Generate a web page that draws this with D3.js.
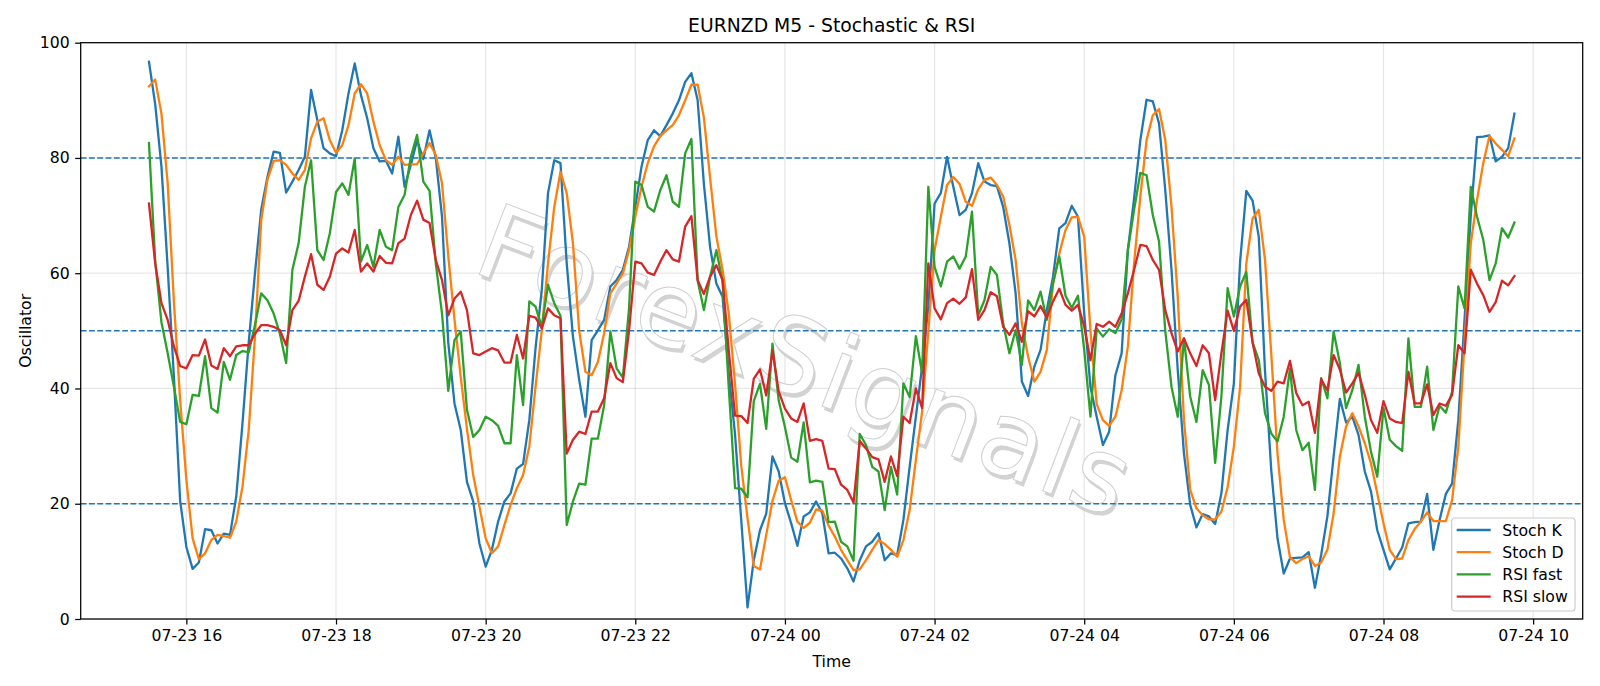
<!DOCTYPE html>
<html>
<head>
<meta charset="utf-8">
<script src="https://cdn.jsdelivr.net/npm/d3@7"></script>
<style>
  html, body { margin: 0; padding: 0; background: #ffffff; }
  svg { display: block; }
  text { font-family: "DejaVu Sans", sans-serif; }
</style>
</head>
<body>
<div id="chart"></div>
<script>
// EURNZD M5 bars, 07-23 15:30 .. 07-24 09:45
var startTime = new Date(2024, 6, 23, 15, 30);
var barMinutes = 5;

var stochK = [
	96.7, 89.3, 78.5, 61, 42, 20.5, 12.5, 8.7, 9.8, 15.6,
	15.4, 13.1, 14.8, 14.6, 21.3, 34, 48, 60, 71, 76.7,
	81.1, 80.9, 74, 75.9, 77.9, 80.2, 91.8, 86.6, 81.7, 80.8,
	80.3, 84.8, 91.2, 96.4, 90.9, 86.9, 81.7, 79.4, 79.5, 77.3,
	83.7, 75.0, 78.8, 83.1, 79.8, 84.8, 80.0, 69.8, 48, 37.4,
	32.8, 23.8, 20.4, 13.1, 9.1, 12.0, 16.9, 20.4, 21.8, 26.1,
	26.9, 34.5, 47, 57.1, 73.9, 79.6, 79.1, 61.7, 49, 41.5,
	35.1, 48.4, 50.1, 51.9, 57.7, 58.8, 60.6, 64.6, 71.5, 78.5,
	83.1, 84.8, 83.8, 85.7, 87.7, 90.0, 93.2, 94.7, 90.0, 75.5,
	64.5, 58.2, 55.9, 42.5, 32, 17, 2.0, 10.2, 15.4, 18.3,
	28.2, 25.6, 20.1, 16.6, 12.7, 17.8, 18.5, 20.4, 18.3, 11.4,
	11.5, 10.5, 8.8, 6.5, 10.2, 12.6, 13.4, 14.9, 10.2, 11.4,
	11.1, 17.2, 26.4, 35.1, 43.8, 54.2, 72.1, 73.9, 80.2, 75.0,
	70.1, 71.0, 73.9, 79.1, 75.9, 75.3, 75.1, 71.5, 65.2, 56.5,
	41.2, 38.7, 43.8, 46.7, 53.6, 59.4, 67.8, 68.7, 71.7, 69.8,
	53, 40.3, 35.1, 30.2, 32.5, 42.3, 46.1, 64.0, 73.0, 83.1,
	90.1, 89.8, 86.0, 74.4, 60.6, 43.2, 28.7, 19.8, 15.9, 18.2,
	17.8, 16.5, 21.8, 32.8, 40.9, 62, 74.3, 72.6, 66.3, 43,
	25.8, 14.0, 7.9, 10.5, 10.6, 10.7, 11.6, 5.4, 11.1, 17.8,
	28.2, 38.2, 34.1, 35.1, 31.9, 25.6, 22.1, 15.4, 12.0, 8.6,
	10.5, 12.4, 16.6, 16.8, 16.9, 21.7, 12.0, 17.2, 21.7, 23.5,
	34.5, 52, 70, 83.6, 83.7, 83.9, 79.4, 80.2, 81.7, 87.7
];

var stochD = [
	92.4, 93.6, 87.7, 75.6, 55, 38, 24.1, 14.0, 10.4, 11.4,
	13.7, 14.6, 14.4, 14.1, 16.9, 23.0, 32.8, 49, 69.2, 76.2,
	79.5, 79.6, 78.8, 77.3, 76.2, 77.9, 83.4, 86.3, 86.9, 83.1,
	80.9, 82.2, 85.7, 91.2, 92.8, 91.2, 86.3, 82.2, 79.6, 78.8,
	80.2, 78.8, 78.9, 78.9, 80.8, 82.6, 80.5, 75.6, 63, 52,
	42, 33, 25, 19.5, 14.0, 11.4, 12.6, 16.3, 19.8, 22.7,
	25.0, 29.9, 40.3, 50, 61.7, 71.5, 77.6, 73.9, 65.2, 50,
	42.9, 42.3, 44.6, 49.6, 56.5, 58.2, 60.0, 64.0, 69.8, 75.0,
	79.1, 82.0, 83.8, 84.8, 85.7, 87.4, 90.0, 92.7, 92.7, 87.0,
	76.5, 66.4, 60.6, 52.9, 40.7, 26.5, 17.5, 9.2, 8.6, 14.6,
	20.5, 24.0, 24.6, 20.6, 16.9, 15.8, 16.7, 19.0, 18.8, 16.2,
	14.3, 12.0, 10.2, 8.5, 8.6, 10.2, 12.0, 13.7, 13.0, 12.0,
	10.8, 13.7, 18.9, 27.6, 36.0, 50, 64.0, 69.8, 75.3, 76.7,
	75.5, 72.4, 71.7, 74.6, 76.2, 76.6, 75.3, 73.3, 68.4, 62.3,
	51.3, 45.5, 41.2, 42.9, 46.7, 58.2, 63.4, 67.5, 69.7, 69.8,
	66.3, 50, 37.3, 34.5, 33.5, 35.1, 39.7, 47.3, 61.7, 73.3,
	83.1, 87.4, 88.5, 83.1, 71.5, 55.9, 34.5, 22.4, 19.2, 18.0,
	17.3, 17.3, 18.6, 22.9, 29.9, 40.3, 61.7, 69.5, 71.0, 62.3,
	46, 28.7, 17.2, 10.7, 9.7, 10.4, 10.9, 9.2, 9.8, 12.0,
	18.3, 28.2, 33.4, 35.7, 33.4, 30.5, 27.0, 21.8, 16.6, 12.0,
	10.4, 10.5, 13.7, 15.6, 16.9, 18.5, 17.0, 17.0, 17.0, 20.6,
	29.9, 48, 65.2, 72.7, 79.1, 83.8, 82.5, 81.4, 80.3, 83.4
];

var rsiFast = [
	82.6, 62, 51.5, 46.1, 40.3, 34.2, 33.8, 38.9, 38.7, 45.6,
	36.6, 35.8, 44.6, 41.5, 45.8, 46.5, 46.3, 51, 56.5, 55.3,
	53.0, 49.5, 44.4, 60.6, 65.2, 75.0, 79.6, 64.0, 62.3, 66.9,
	74.1, 75.6, 73.6, 79.9, 62.0, 64.9, 61.1, 67.5, 64.6, 64.0,
	71.5, 73.6, 80.2, 84.0, 75.9, 74.3, 61.7, 53.0, 39.6, 48.4,
	49.9, 36.3, 31.6, 32.8, 35.1, 34.5, 33.5, 30.5, 30.5, 45.8,
	37.1, 55.1, 54.2, 50.7, 58.0, 54.8, 52.6, 16.3, 20.4, 23.5,
	23.3, 31.3, 31.3, 37.1, 49.9, 43.5, 41.9, 54, 75.9, 75.3,
	71.5, 70.7, 74.4, 77.0, 72.4, 71.5, 80.8, 83.3, 58.7, 53.6,
	59.4, 64.0, 58.5, 40, 22.7, 22.6, 21.1, 37.8, 40.8, 33.0,
	47.8, 37.9, 33.3, 28.0, 27.3, 34.1, 23.7, 24.0, 23.8, 16.8,
	16.9, 13.4, 12.6, 10.1, 32.1, 30.2, 26.4, 25.6, 18.9, 26.4,
	21.6, 40.9, 38.5, 49.1, 42.6, 75.0, 61.1, 57.7, 62.0, 62.9,
	60.8, 62.9, 70.7, 52.7, 55.3, 61.1, 59.7, 51.3, 46.1, 50.1,
	44.1, 55.3, 53.6, 56.8, 51.9, 58.2, 62.9, 56.1, 54.0, 56.1,
	46.7, 35.1, 50.4, 49.0, 50.3, 49.6, 52, 64.0, 71.0, 77.4,
	77.0, 70.1, 65.5, 50, 40.3, 35.1, 48.7, 38.6, 34.2, 43.2,
	40.6, 27.1, 38.6, 57.4, 52.5, 57.7, 60.2, 48, 44.9, 35.7,
	32.2, 30.8, 35.1, 43.5, 32.8, 29.3, 30.6, 22.4, 41.8, 38.3,
	49.9, 44.4, 36.6, 39.7, 44.1, 35.1, 29.0, 24.7, 36.6, 31.1,
	30.0, 29.2, 48.7, 36.8, 36.8, 43.8, 32.8, 37.0, 35.8, 39.4,
	57.7, 53.9, 75.0, 69.8, 65.8, 58.8, 61.7, 67.8, 66.2, 68.8
];

var rsiSlow = [
	72.1, 61.7, 54.8, 51.9, 47.3, 43.9, 43.5, 45.8, 45.7, 48.5,
	44.0, 43.4, 47.0, 45.6, 47.3, 47.5, 47.5, 49.5, 51.0, 51.0,
	50.7, 50.1, 47.5, 53.6, 55.2, 59.4, 63.3, 58.0, 57.1, 59.4,
	63.4, 64.3, 63.6, 67.5, 60.3, 61.7, 60.3, 63.0, 61.8, 61.7,
	65.2, 66.0, 70.1, 72.6, 69.3, 68.7, 62.3, 58.8, 52.7, 55.6,
	56.8, 53.6, 46.1, 45.8, 46.4, 47.0, 46.6, 44.5, 44.5, 49.3,
	45.2, 52.6, 52.3, 50.4, 53.9, 52.7, 52.2, 28.7, 31.1, 32.5,
	32.1, 36.0, 36.0, 38.3, 44.4, 41.8, 41.1, 50.1, 62.0, 61.7,
	60.1, 59.7, 62.0, 64.0, 62.4, 62.0, 68.1, 69.9, 58.8, 56.4,
	59.4, 61.4, 58.8, 46.5, 35.3, 35.2, 34.0, 41.7, 43.3, 38.8,
	46.6, 39.5, 36.5, 34.8, 34.2, 37.4, 30.9, 31.2, 30.9, 26.1,
	26.0, 23.3, 22.4, 20.2, 30.9, 29.6, 28.1, 27.7, 23.8, 28.2,
	24.8, 35.1, 34.0, 40.0, 36.6, 61.7, 53.9, 52.0, 54.8, 55.6,
	54.7, 55.8, 60.7, 51.9, 53.6, 56.7, 56.0, 50.7, 49.3, 51.3,
	48.1, 53.4, 52.5, 54.3, 52.3, 55.1, 57.3, 54.5, 53.5, 54.5,
	50.8, 44.9, 51.2, 50.7, 51.6, 50.7, 53.0, 56.5, 60.6, 64.9,
	64.7, 62.3, 60.6, 53.6, 49.6, 46.4, 48.7, 46.1, 43.9, 47.5,
	46.1, 38.0, 46.1, 53.5, 50.0, 54.2, 55.4, 48, 42.6, 40.3,
	39.6, 41.2, 40.9, 44.8, 39.2, 37.1, 37.7, 32.3, 41.6, 39.7,
	45.8, 43.3, 39.3, 40.9, 42.7, 38.9, 34.5, 32.3, 37.8, 34.8,
	34.2, 34.0, 42.9, 37.4, 37.4, 40.7, 35.4, 37.4, 37.0, 38.9,
	47.5, 46.1, 60.6, 58.2, 56.2, 53.3, 55.0, 58.7, 57.9, 59.5
];

var seriesNames = ["Stoch K", "Stoch D", "RSI fast", "RSI slow"];
var seriesColors = ["#1f77b4", "#ff7f0e", "#2ca02c", "#d62728"];
var levels = [80, 50, 20];
var yTicks = [0, 20, 40, 60, 80, 100];
var xTickTimes = [
	"2024-07-23T16:00", "2024-07-23T18:00", "2024-07-23T20:00", "2024-07-23T22:00",
	"2024-07-24T00:00", "2024-07-24T02:00", "2024-07-24T04:00", "2024-07-24T06:00",
	"2024-07-24T08:00", "2024-07-24T10:00"
];
var xTickLabels = [
	"07-23 16", "07-23 18", "07-23 20", "07-23 22", "07-24 00",
	"07-24 02", "07-24 04", "07-24 06", "07-24 08", "07-24 10"
];

function drawChart() {
	var width = 1600, height = 686;
	var margin = {top: 42.7, right: 17.3, bottom: 67, left: 80.7};
	var w = width - margin.left - margin.right,
		h = height - margin.top - margin.bottom;

	var times = stochK.map(function (d, i) {
		return new Date(startTime.getTime() + i * barMinutes * 60000);
	});
	var allSeries = [stochK, stochD, rsiFast, rsiSlow];

	var svg = d3.select("#chart").append("svg")
		.attr("width", width)
		.attr("height", height);

	var g = svg.append("g")
		.attr("transform", "translate(" + margin.left + "," + margin.top + ")");

	// matplotlib style 5% x margins
	var t0 = times[0].getTime(), t1 = times[times.length - 1].getTime();
	var pad = (t1 - t0) * 0.05;
	var x = d3.scaleTime()
		.domain([new Date(t0 - pad), new Date(t1 + pad)])
		.range([0, w]);
	var y = d3.scaleLinear()
		.domain([0, 100])
		.range([h, 0]);

	var tickDates = xTickTimes.map(function (s) { return new Date(s); });

	// grid
	g.append("g").selectAll("line")
		.data(tickDates)
		.enter().append("line")
			.attr("x1", d => x(d)).attr("x2", d => x(d))
			.attr("y1", 0).attr("y2", h)
			.attr("stroke", "#b0b0b0").attr("stroke-opacity", 0.3)
			.attr("stroke-width", 1.25);
	g.append("g").selectAll("line")
		.data(yTicks)
		.enter().append("line")
			.attr("x1", 0).attr("x2", w)
			.attr("y1", d => y(d)).attr("y2", d => y(d))
			.attr("stroke", "#b0b0b0").attr("stroke-opacity", 0.3)
			.attr("stroke-width", 1.25);

	// watermark
	var wm = g.append("g")
		.attr("transform", "translate(" + (802 - margin.left) + "," + (368 - margin.top) + ") rotate(21)");
	wm.append("text")
		.attr("x", 3).attr("y", 3)
		.attr("text-anchor", "middle")
		.attr("dominant-baseline", "middle")
		.attr("font-size", "104px")
		.attr("textLength", 690)
		.attr("fill", "#c4c4c4")
		.attr("fill-opacity", 0.75)
		.text("ForexSignals");
	wm.append("text")
		.attr("text-anchor", "middle")
		.attr("dominant-baseline", "middle")
		.attr("font-size", "104px")
		.attr("textLength", 690)
		.attr("fill", "#ffffff")
		.attr("stroke", "#cfcfcf")
		.attr("stroke-width", 1)
		.text("ForexSignals");

	// level lines
	g.append("g").selectAll("line")
		.data(levels)
		.enter().append("line")
			.attr("x1", 0).attr("x2", w)
			.attr("y1", d => y(d)).attr("y2", d => y(d))
			.attr("stroke", "#1f77b4")
			.attr("stroke-width", 1.5)
			.attr("stroke-dasharray", "5.8,2.5");

	var line = d3.line()
		.x((d, i) => x(times[i]))
		.y(d => y(d));

	for (var s = 0; s < allSeries.length; s++) {
		g.append("path")
			.datum(allSeries[s])
			.attr("fill", "none")
			.attr("stroke", seriesColors[s])
			.attr("stroke-width", 2.3)
			.attr("stroke-linejoin", "round")
			.attr("stroke-linecap", "square")
			.attr("d", line);
	}

	// axes
	var xAxis = d3.axisBottom(x)
		.tickValues(tickDates)
		.tickFormat((d, i) => xTickLabels[i])
		.tickSize(5.5)
		.tickPadding(5.5);
	var yAxis = d3.axisLeft(y)
		.tickValues(yTicks)
		.tickSize(5.5)
		.tickPadding(5.5);

	var xg = g.append("g")
		.attr("transform", "translate(0," + h + ")")
		.call(xAxis);
	var yg = g.append("g").call(yAxis);
	[xg, yg].forEach(function (ax) {
		ax.select(".domain").remove();
		ax.selectAll("line").attr("stroke", "#000").attr("stroke-width", 1.25);
		ax.selectAll("text")
			.attr("font-family", "DejaVu Sans")
			.attr("font-size", "15.7px")
			.attr("fill", "#000");
	});

	// frame
	g.append("rect")
		.attr("width", w).attr("height", h)
		.attr("fill", "none")
		.attr("stroke", "#000")
		.attr("stroke-width", 1.25);

	// title and labels
	svg.append("text")
		.attr("x", margin.left + w / 2).attr("y", 32)
		.attr("text-anchor", "middle")
		.attr("font-size", "18.8px")
		.attr("fill", "#000")
		.text("EURNZD M5 - Stochastic & RSI");
	svg.append("text")
		.attr("x", margin.left + w / 2).attr("y", 667)
		.attr("text-anchor", "middle")
		.attr("font-size", "15.7px")
		.attr("fill", "#000")
		.text("Time");
	svg.append("text")
		.attr("transform", "translate(31," + (margin.top + h / 2) + ") rotate(-90)")
		.attr("text-anchor", "middle")
		.attr("font-size", "15.7px")
		.attr("fill", "#000")
		.text("Oscillator");

	// legend
	var lg = svg.append("g")
		.attr("transform", "translate(1451.7,518)");
	lg.append("rect")
		.attr("width", 123.3).attr("height", 93)
		.attr("rx", 3).attr("ry", 3)
		.attr("fill", "#ffffff").attr("fill-opacity", 0.8)
		.attr("stroke", "#cccccc").attr("stroke-width", 1.2);
	var rows = lg.selectAll(".legRow")
		.data(seriesNames)
		.enter().append("g")
			.attr("class", "legRow")
			.attr("transform", (d, i) => "translate(0," + (12 + i * 22.2) + ")");
	rows.append("line")
		.attr("x1", 5).attr("x2", 39)
		.attr("stroke", (d, i) => seriesColors[i])
		.attr("stroke-width", 2.3);
	rows.append("text")
		.attr("x", 50.6).attr("y", 5.5)
		.attr("font-size", "15.7px")
		.attr("fill", "#000")
		.text(d => d);
}

drawChart();
</script>
</body>
</html>
